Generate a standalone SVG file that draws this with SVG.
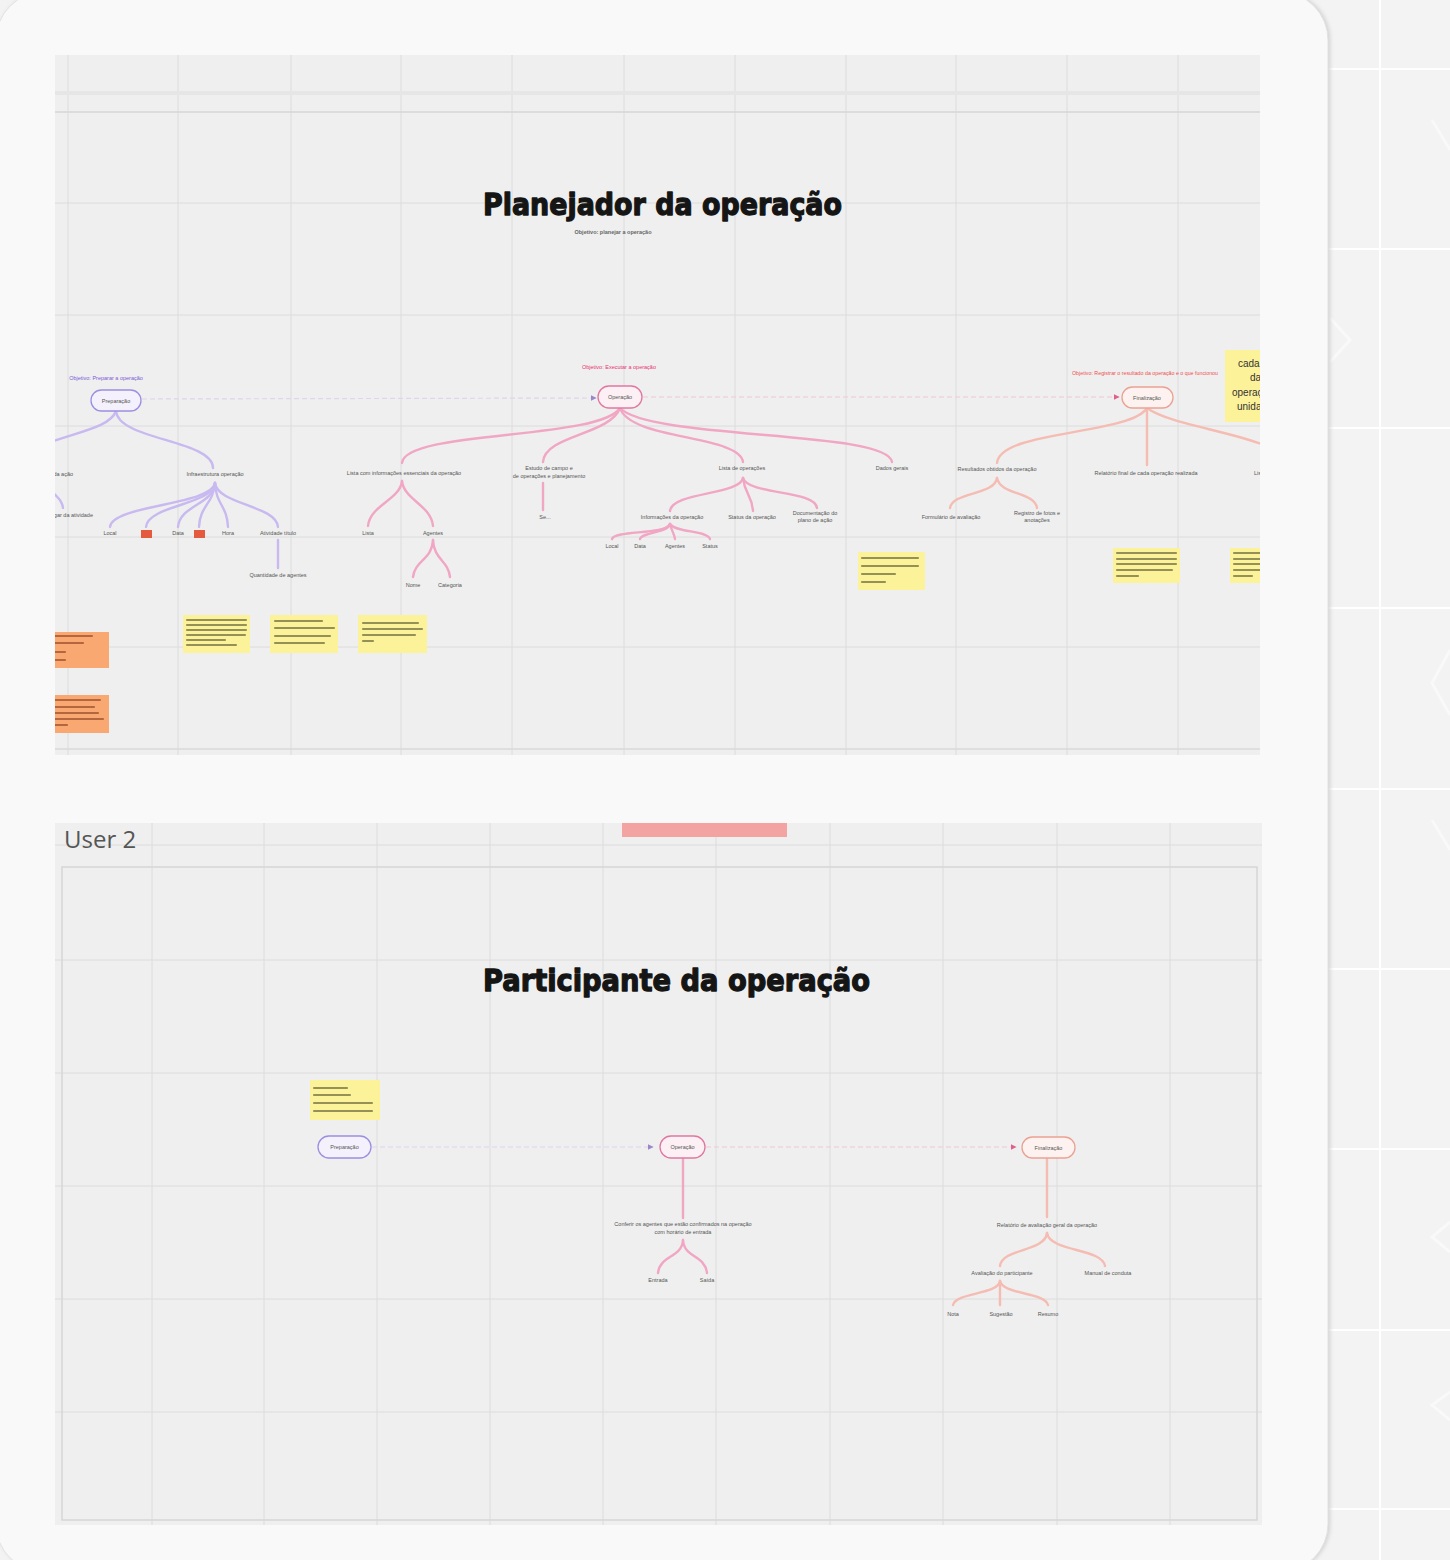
<svg xmlns="http://www.w3.org/2000/svg" width="1450" height="1560" viewBox="0 0 1450 1560">
<defs>
<style>
.t{font-family:"Liberation Sans",Arial,sans-serif;font-size:5.5px;fill:#555;text-anchor:middle}
.ts{font-family:"Liberation Sans",Arial,sans-serif;font-size:5.5px;fill:#555}
.te{font-family:"Liberation Sans",Arial,sans-serif;font-size:5.5px;fill:#555;text-anchor:end}
.title{font-family:"DejaVu Sans",Verdana,sans-serif;font-weight:900;font-size:30px;fill:#151515;stroke:#151515;stroke-width:1.3;stroke-linejoin:round}
.grid{stroke:#dcdcdc;stroke-width:1}
.ep{fill:none;stroke:#c8b9f0;stroke-width:2.4;stroke-linecap:round}
.ek{fill:none;stroke:#f1a6c4;stroke-width:2.4;stroke-linecap:round}
.es{fill:none;stroke:#f5bcb3;stroke-width:2.4;stroke-linecap:round}
.dp{fill:none;stroke:#e2d4ec;stroke-width:1.2;stroke-dasharray:5 3}
.dk{fill:none;stroke:#f4c8d7;stroke-width:1.2;stroke-dasharray:5 3}
.pp{fill:#f4f1fc;stroke:#9c8fe0;stroke-width:1.3}
.pk{fill:#fcf0f4;stroke:#df78a0;stroke-width:1.3}
.ps{fill:#fdf2ef;stroke:#eaa293;stroke-width:1.3}
.y{fill:#fcf29a}
.o{fill:#f8a870}
.yb{stroke:#959156;stroke-width:2.2;stroke-linecap:round}
.ob{stroke:#b5663e;stroke-width:2.2;stroke-linecap:round}
.wl{stroke:#ffffff;stroke-width:2}
</style>
<marker id="ap" viewBox="0 0 10 10" refX="9" refY="5" markerWidth="5" markerHeight="5" orient="auto"><path d="M0 0L10 5L0 10z" fill="#9a86c8"/></marker>
<marker id="ak" viewBox="0 0 10 10" refX="9" refY="5" markerWidth="5" markerHeight="5" orient="auto"><path d="M0 0L10 5L0 10z" fill="#e0608a"/></marker>
<clipPath id="ctop"><rect x="55" y="55" width="1205" height="700"/></clipPath>
<clipPath id="cbot"><rect x="55" y="823" width="1207" height="702"/></clipPath>
<filter id="sh" x="-5%" y="-5%" width="110%" height="110%"><feGaussianBlur stdDeviation="2"/></filter>
</defs>

<!-- outer background -->
<rect x="0" y="0" width="1450" height="1560" fill="#f3f3f3"/>
<g class="wl">
<line x1="1380" y1="0" x2="1380" y2="1560"/>
<line x1="1328" y1="69" x2="1450" y2="69"/>
<line x1="1328" y1="249" x2="1450" y2="249"/>
<line x1="1328" y1="428" x2="1450" y2="428"/>
<line x1="1328" y1="608" x2="1450" y2="608"/>
<line x1="1328" y1="789" x2="1450" y2="789"/>
<line x1="1328" y1="969" x2="1450" y2="969"/>
<line x1="1328" y1="1149" x2="1450" y2="1149"/>
<line x1="1328" y1="1330" x2="1450" y2="1330"/>
<line x1="1328" y1="1509" x2="1450" y2="1509"/>
</g>
<g fill="none" stroke="#fafafa" stroke-width="3" opacity="0.8">
<path d="M1432 120 L1450 150"/>
<path d="M1330 318 L1350 340 L1330 362"/>
<path d="M1450 650 L1432 683 L1450 715"/>
<path d="M1432 820 L1450 850"/>
<path d="M1450 1222 L1432 1237 L1450 1252"/>
<path d="M1450 1392 L1432 1405 L1450 1420"/>
</g>

<!-- panel -->
<rect x="-2" y="-8" width="1332" height="1580" rx="48" fill="#d0d0d0" filter="url(#sh)"/>
<rect x="-4" y="-8" width="1332" height="1580" rx="48" fill="#f9f9f9" stroke="#e2e2e2" stroke-width="1"/>

<!-- top canvas -->
<g id="top-canvas">
<rect x="55" y="55" width="1205" height="700" fill="#efefef"/>
<g class="grid">
<line x1="68" y1="55" x2="68" y2="755"/>
<line x1="178" y1="55" x2="178" y2="755"/>
<line x1="291" y1="55" x2="291" y2="755"/>
<line x1="401" y1="55" x2="401" y2="755"/>
<line x1="512" y1="55" x2="512" y2="755"/>
<line x1="624" y1="55" x2="624" y2="755"/>
<line x1="735" y1="55" x2="735" y2="755"/>
<line x1="846" y1="55" x2="846" y2="755"/>
<line x1="956" y1="55" x2="956" y2="755"/>
<line x1="1067" y1="55" x2="1067" y2="755"/>
<line x1="1178" y1="55" x2="1178" y2="755"/>
<line x1="55" y1="93" x2="1260" y2="93" stroke="#e6e6e6" stroke-width="4"/>
<line x1="55" y1="112" x2="1260" y2="112" stroke="#d6d6d6" stroke-width="1.5"/>
<line x1="55" y1="203" x2="1260" y2="203"/>
<line x1="55" y1="315" x2="1260" y2="315"/>
<line x1="55" y1="426" x2="1260" y2="426"/>
<line x1="55" y1="537" x2="1260" y2="537"/>
<line x1="55" y1="647" x2="1260" y2="647"/>
<line x1="55" y1="749" x2="1260" y2="749" stroke="#d8d8d8" stroke-width="1.5"/>
</g>
</g>

<!-- bottom canvas -->
<g id="bottom-canvas">
<rect x="55" y="823" width="1207" height="702" fill="#efefef"/>
<g class="grid">
<line x1="152" y1="823" x2="152" y2="1525"/>
<line x1="264" y1="823" x2="264" y2="1525"/>
<line x1="377" y1="823" x2="377" y2="1525"/>
<line x1="490" y1="823" x2="490" y2="1525"/>
<line x1="603" y1="823" x2="603" y2="1525"/>
<line x1="716" y1="823" x2="716" y2="1525"/>
<line x1="830" y1="823" x2="830" y2="1525"/>
<line x1="943" y1="823" x2="943" y2="1525"/>
<line x1="1057" y1="823" x2="1057" y2="1525"/>
<line x1="1170" y1="823" x2="1170" y2="1525"/>
<line x1="55" y1="845" x2="1262" y2="845"/>
<line x1="55" y1="960" x2="1262" y2="960"/>
<line x1="55" y1="1073" x2="1262" y2="1073"/>
<line x1="55" y1="1186" x2="1262" y2="1186"/>
<line x1="55" y1="1299" x2="1262" y2="1299"/>
<line x1="55" y1="1412" x2="1262" y2="1412"/>
</g>
<rect x="62" y="867" width="1195" height="653" fill="none" stroke="#d6d6d6" stroke-width="1.5"/>
<text x="64" y="848" font-family="'Open Sans','Liberation Sans',sans-serif" font-size="24" fill="#555">User 2</text>
<rect id="sticky-pink-top" x="622" y="823" width="165" height="14" fill="#f4a3a3"/>
</g>

<!-- titles -->
<g id="title-top">
<text class="title" x="483" y="215" textLength="359" lengthAdjust="spacingAndGlyphs">Planejador da operação</text>
<text class="t" x="613" y="234" style="font-weight:bold;fill:#666">Objetivo: planejar a operação</text>
</g>
<g id="title-bottom">
<text class="title" x="483" y="991" textLength="387" lengthAdjust="spacingAndGlyphs">Participante da operação</text>
</g>

<!-- connectors -->
<g id="connectors">
<g clip-path="url(#ctop)">
<path class="dp" d="M142 399 L596 398" marker-end="url(#ap)"/>
<path class="dk" d="M643 397 L1119 397" marker-end="url(#ak)"/>
<!-- purple tree -->
<path class="ep" d="M116 411 C110 428 75 432 40 446"/>
<path class="ep" d="M116 411 C118 440 213 440 213 468"/>
<path class="ep" d="M38 482 C52 492 62 498 63 508"/>
<path class="ep" d="M215 483 C212 505 112 505 110 527"/>
<path class="ep" d="M215 483 C213 505 148 505 146 527"/>
<path class="ep" d="M215 483 C213 505 180 505 178 527"/>
<path class="ep" d="M215 483 C213 505 200 505 199 527"/>
<path class="ep" d="M215 483 C216 505 227 505 228 527"/>
<path class="ep" d="M215 483 C218 505 276 505 278 527"/>
<path class="ep" d="M278 540 L278 568"/>
<!-- pink tree -->
<path class="ek" d="M620 408 C600 440 405 430 402 463"/>
<path class="ek" d="M620 408 C610 435 545 435 543 462"/>
<path class="ek" d="M620 408 C630 440 740 435 743 462"/>
<path class="ek" d="M620 408 C650 440 888 430 892 462"/>
<path class="ek" d="M402 481 C400 500 370 505 368 526"/>
<path class="ek" d="M402 481 C404 500 431 505 433 526"/>
<path class="ek" d="M433 540 C432 560 415 560 413 577"/>
<path class="ek" d="M433 540 C434 560 448 560 450 577"/>
<path class="ek" d="M543 483 L543 510"/>
<path class="ek" d="M743 478 C740 495 672 492 670 511"/>
<path class="ek" d="M743 478 C745 495 752 495 753 511"/>
<path class="ek" d="M743 478 C748 495 815 490 817 508"/>
<path class="ek" d="M670 524 C665 535 615 530 612 539"/>
<path class="ek" d="M670 524 C668 533 642 532 640 539"/>
<path class="ek" d="M670 524 C672 532 674 533 675 539"/>
<path class="ek" d="M670 524 C676 533 707 530 710 539"/>
<!-- salmon tree -->
<path class="es" d="M1147 408 C1130 435 1000 430 997 463"/>
<path class="es" d="M1147 408 L1147 465"/>
<path class="es" d="M1147 408 C1170 425 1240 432 1275 450"/>
<path class="es" d="M997 478 C995 495 952 492 950 508"/>
<path class="es" d="M997 478 C1000 495 1035 492 1037 508"/>
</g>
<g clip-path="url(#cbot)">
<path class="dp" d="M372 1147 L653 1147" marker-end="url(#ap)"/>
<path class="dk" d="M706 1147 L1016 1147" marker-end="url(#ak)"/>
<path class="ek" d="M683 1158 L683 1218"/>
<path class="ek" d="M683 1240 C682 1258 660 1255 658 1273"/>
<path class="ek" d="M683 1240 C684 1258 705 1255 707 1273"/>
<path class="es" d="M1047 1158 L1047 1217"/>
<path class="es" d="M1047 1233 C1045 1252 1002 1248 1000 1266"/>
<path class="es" d="M1047 1233 C1050 1252 1102 1248 1105 1266"/>
<path class="es" d="M1000 1281 C998 1295 956 1292 953 1305"/>
<path class="es" d="M1000 1281 L1000 1305"/>
<path class="es" d="M1000 1281 C1003 1295 1045 1292 1048 1305"/>
</g>
</g>

<!-- top nodes -->
<g clip-path="url(#ctop)">
<g id="n-preparacao">
<text class="t" x="106" y="380" style="fill:#7a5cd6">Objetivo: Preparar a operação</text>
<rect class="pp" x="91" y="390" width="50" height="21" rx="10.5"/>
<text class="t" x="116" y="402.5">Preparação</text>
</g>
<g id="n-definicao"><text class="te" x="73" y="476">Definição da ação</text></g>
<g id="n-lugar"><text class="te" x="93" y="517">Lugar da atividade</text></g>
<g id="n-infra"><text class="t" x="215" y="476">Infraestrutura operação</text></g>
<g id="n-local"><text class="t" x="110" y="535">Local</text></g>
<g id="n-tag1"><rect x="141" y="530" width="11" height="8" fill="#e45a3e"/></g>
<g id="n-data"><text class="t" x="178" y="535">Data</text></g>
<g id="n-tag2"><rect x="194" y="530" width="11" height="8" fill="#e45a3e"/></g>
<g id="n-hora"><text class="t" x="228" y="535">Hora</text></g>
<g id="n-atividade"><text class="t" x="278" y="535">Atividade título</text></g>
<g id="n-qtd"><text class="t" x="278" y="577">Quantidade de agentes</text></g>

<g id="n-operacao">
<text class="t" x="619" y="369" style="fill:#e8336f">Objetivo: Executar a operação</text>
<rect class="pk" x="598" y="386" width="44" height="22" rx="11"/>
<text class="t" x="620" y="399">Operação</text>
</g>
<g id="n-lista-info"><text class="t" x="404" y="475">Lista com informações essenciais da operação</text></g>
<g id="n-estudo"><text class="t" x="549" y="470">Estudo de campo e</text><text class="t" x="549" y="478">de operações e planejamento</text></g>
<g id="n-lista-op"><text class="t" x="742" y="470">Lista de operações</text></g>
<g id="n-dados"><text class="t" x="892" y="470">Dados gerais</text></g>
<g id="n-lista"><text class="t" x="368" y="535">Lista</text></g>
<g id="n-agentes"><text class="t" x="433" y="535">Agentes</text></g>
<g id="n-nome"><text class="t" x="413" y="587">Nome</text></g>
<g id="n-categoria"><text class="t" x="450" y="587">Categoria</text></g>
<g id="n-se"><text class="t" x="545" y="519">Se...</text></g>
<g id="n-info-op"><text class="t" x="672" y="519">Informações da operação</text></g>
<g id="n-status-op"><text class="t" x="752" y="519">Status da operação</text></g>
<g id="n-doc"><text class="t" x="815" y="515">Documentação do</text><text class="t" x="815" y="522">plano de ação</text></g>
<g id="n-local2"><text class="t" x="612" y="548">Local</text></g>
<g id="n-data2"><text class="t" x="640" y="548">Data</text></g>
<g id="n-agentes2"><text class="t" x="675" y="548">Agentes</text></g>
<g id="n-status2"><text class="t" x="710" y="548">Status</text></g>

<g id="n-finalizacao">
<text class="t" x="1145" y="375" style="fill:#ee5050" textLength="146" lengthAdjust="spacingAndGlyphs">Objetivo: Registrar o resultado da operação e o que funcionou</text>
<rect class="ps" x="1122" y="387" width="51" height="21" rx="10.5"/>
<text class="t" x="1147" y="399.5">Finalização</text>
</g>
<g id="n-resultados"><text class="t" x="997" y="471">Resultados obtidos da operação</text></g>
<g id="n-relatorio"><text class="t" x="1146" y="475">Relatório final de cada operação realizada</text></g>
<g id="n-lista-r"><text class="ts" x="1254" y="475">Lista</text></g>
<g id="n-form"><text class="t" x="951" y="519">Formulário de avaliação</text></g>
<g id="n-registro"><text class="t" x="1037" y="515">Registro de fotos e</text><text class="t" x="1037" y="522">anotações</text></g>

<!-- stickies top -->
<g id="sticky-a"><rect class="y" x="858" y="552" width="67" height="38"/>
<g class="yb"><line x1="862" y1="558" x2="918" y2="558"/><line x1="862" y1="566" x2="918" y2="566"/><line x1="862" y1="574" x2="895" y2="574"/><line x1="862" y1="582" x2="885" y2="582"/></g></g>
<g id="sticky-b"><rect class="y" x="1113" y="548" width="67" height="35"/>
<g class="yb"><line x1="1117" y1="553" x2="1176" y2="553"/><line x1="1117" y1="559" x2="1176" y2="559"/><line x1="1117" y1="564" x2="1176" y2="564"/><line x1="1117" y1="570" x2="1172" y2="570"/><line x1="1117" y1="576" x2="1138" y2="576"/></g></g>
<g id="sticky-c"><rect class="y" x="1230" y="548" width="40" height="35"/>
<g class="yb"><line x1="1234" y1="553" x2="1265" y2="553"/><line x1="1234" y1="559" x2="1265" y2="559"/><line x1="1234" y1="564" x2="1265" y2="564"/><line x1="1234" y1="570" x2="1265" y2="570"/><line x1="1234" y1="576" x2="1252" y2="576"/></g></g>
<g id="sticky-g"><rect class="y" x="1225" y="350" width="60" height="72"/>
<g font-family="'Liberation Sans',Arial,sans-serif" font-size="10" fill="#333">
<text x="1238" y="367">cada</text><text x="1250" y="381">da</text><text x="1232" y="396">operação</text><text x="1237" y="410">unidade</text></g></g>
<g id="sticky-d"><rect class="y" x="183" y="615" width="67" height="38"/>
<g class="yb"><line x1="187" y1="620" x2="246" y2="620"/><line x1="187" y1="625" x2="246" y2="625"/><line x1="187" y1="630" x2="246" y2="630"/><line x1="187" y1="635" x2="245" y2="635"/><line x1="187" y1="640" x2="225" y2="640"/><line x1="187" y1="645" x2="236" y2="645"/></g></g>
<g id="sticky-e"><rect class="y" x="270" y="615" width="68" height="38"/>
<g class="yb"><line x1="275" y1="621" x2="322" y2="621"/><line x1="275" y1="628" x2="334" y2="628"/><line x1="275" y1="636" x2="330" y2="636"/><line x1="275" y1="643" x2="324" y2="643"/></g></g>
<g id="sticky-f"><rect class="y" x="358" y="615" width="69" height="38"/>
<g class="yb"><line x1="363" y1="623" x2="418" y2="623"/><line x1="363" y1="629" x2="422" y2="629"/><line x1="363" y1="635" x2="415" y2="635"/><line x1="363" y1="641" x2="373" y2="641"/></g></g>
<g id="sticky-o1"><rect class="o" x="50" y="632" width="59" height="36"/>
<g class="ob"><line x1="55" y1="636" x2="92" y2="636"/><line x1="55" y1="643" x2="83" y2="643"/><line x1="55" y1="652" x2="65" y2="652"/><line x1="55" y1="660" x2="65" y2="660"/></g></g>
<g id="sticky-o2"><rect class="o" x="50" y="695" width="59" height="38"/>
<g class="ob"><line x1="55" y1="700" x2="100" y2="700"/><line x1="55" y1="707" x2="94" y2="707"/><line x1="55" y1="713" x2="98" y2="713"/><line x1="55" y1="719" x2="103" y2="719"/><line x1="55" y1="725" x2="67" y2="725"/></g></g>
</g>

<!-- bottom nodes -->
<g clip-path="url(#cbot)">
<g id="sticky-h"><rect class="y" x="310" y="1080" width="70" height="40"/>
<g class="yb"><line x1="314" y1="1088" x2="347" y2="1088"/><line x1="314" y1="1095" x2="350" y2="1095"/><line x1="314" y1="1103" x2="372" y2="1103"/><line x1="314" y1="1111" x2="372" y2="1111"/></g></g>
<g id="b-preparacao"><rect class="pp" x="318" y="1136" width="53" height="22" rx="11"/><text class="t" x="344.5" y="1149">Preparação</text></g>
<g id="b-operacao"><rect class="pk" x="660" y="1136" width="45" height="22" rx="11"/><text class="t" x="682.5" y="1149">Operação</text></g>
<g id="b-finalizacao"><rect class="ps" x="1022" y="1137" width="53" height="21" rx="10.5"/><text class="t" x="1048.5" y="1149.5">Finalização</text></g>
<g id="b-conferir"><text class="t" x="683" y="1226">Conferir os agentes que estão confirmados na operação</text><text class="t" x="683" y="1234">com horário de entrada</text></g>
<g id="b-entrada"><text class="t" x="658" y="1282">Entrada</text></g>
<g id="b-saida"><text class="t" x="707" y="1282">Saída</text></g>
<g id="b-relatorio"><text class="t" x="1047" y="1227">Relatório de avaliação geral da operação</text></g>
<g id="b-avaliacao"><text class="t" x="1002" y="1275">Avaliação do participante</text></g>
<g id="b-manual"><text class="t" x="1108" y="1275">Manual de conduta</text></g>
<g id="b-nota"><text class="t" x="953" y="1316">Nota</text></g>
<g id="b-sugestao"><text class="t" x="1001" y="1316">Sugestão</text></g>
<g id="b-resumo"><text class="t" x="1048" y="1316">Resumo</text></g>
</g>
</svg>
